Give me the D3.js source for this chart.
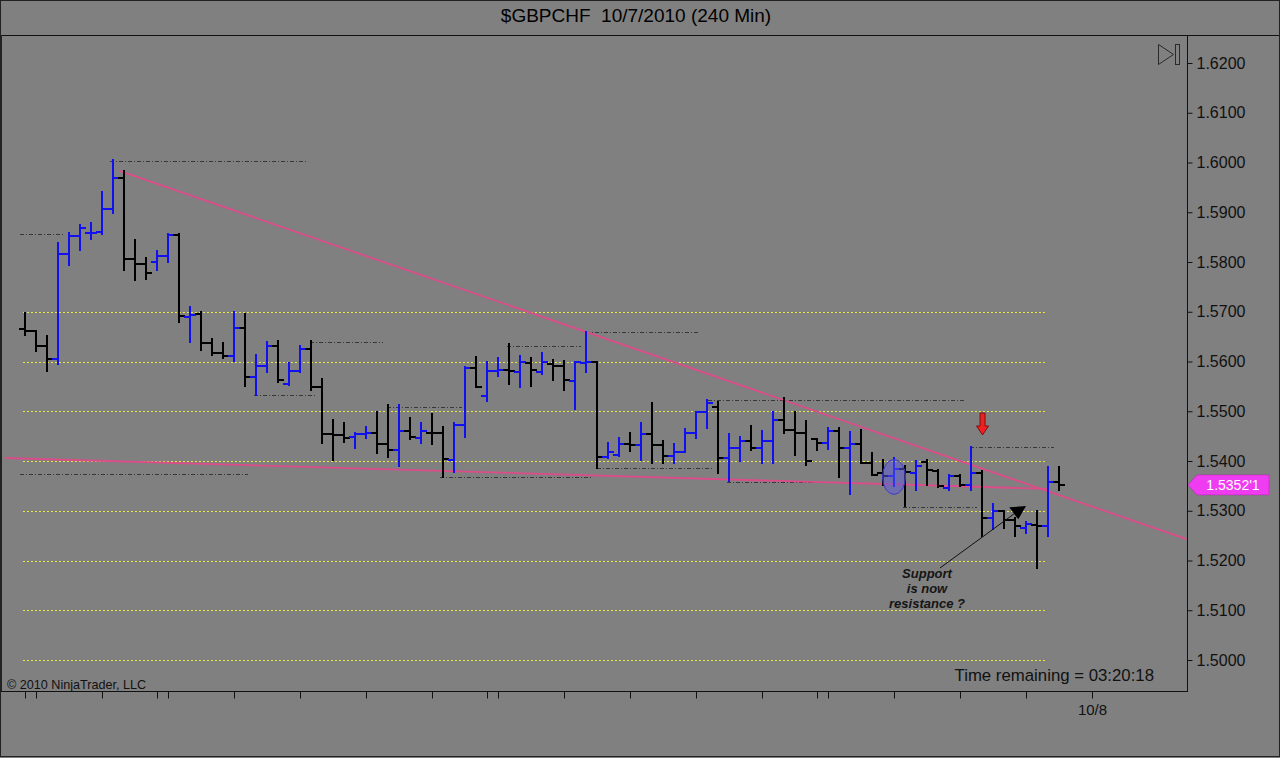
<!DOCTYPE html>
<html><head><meta charset="utf-8">
<script src="https://cdn.jsdelivr.net/npm/d3@7"></script>
<style>
html,body{margin:0;padding:0;background:#808080;}
svg{display:block;font-family:Arial,"Liberation Sans",sans-serif;}
text{white-space:pre;}
</style></head><body>
<svg id="c" width="1280" height="758"></svg>
<script>
// ---- data (240-min OHLC bars, $GBPCHF) ----
const opens  = [1.5666,1.5661,1.5631,1.5606,1.5816,1.5852,1.5858,1.5860,1.5906,1.5968,
1.5807,1.5795,1.5800,1.5812,1.5854,1.5690,1.5695,1.5638,1.5618,1.5611,
1.5667,1.5569,1.5590,1.5632,1.5554,1.5580,1.5626,1.5548,1.5454,1.5452,
1.5448,1.5454,1.5457,1.5434,1.5422,1.5460,1.5447,1.5457,1.5456,1.5402,
1.5472,1.5587,1.5531,1.5580,1.5582,1.5579,1.5596,1.5579,1.5595,1.5591,
1.5561,1.5597,1.5599,1.5409,1.5413,1.5434,1.5432,1.5454,1.5432,1.5410,
1.5418,1.5457,1.5498,1.5508,1.5406,1.5427,1.5440,1.5427,1.5440,1.5483,
1.5463,1.5456,1.5444,1.5437,1.5461,1.5427,1.5435,1.5396,1.5375,1.5370,
1.5383,1.5375,1.5397,1.5379,1.5345,1.5370,1.5352,1.5375,1.5285,1.5299,
1.5282,1.5265,1.5272,1.5269,1.5357];
const highs  = [1.5698,1.5661,1.5652,1.5839,1.5859,1.5874,1.5878,1.5940,1.6005,1.5983,
1.5844,1.5809,1.5822,1.5857,1.5856,1.5710,1.5700,1.5646,1.5638,1.5700,
1.5695,1.5613,1.5640,1.5642,1.5596,1.5632,1.5642,1.5564,1.5483,1.5477,
1.5456,1.5468,1.5499,1.5512,1.5512,1.5487,1.5477,1.5494,1.5469,1.5477,
1.5588,1.5610,1.5599,1.5608,1.5635,1.5611,1.5608,1.5618,1.5603,1.5601,
1.5599,1.5660,1.5599,1.5437,1.5447,1.5456,1.5476,1.5517,1.5440,1.5434,
1.5465,1.5499,1.5522,1.5518,1.5454,1.5449,1.5471,1.5461,1.5499,1.5527,
1.5498,1.5481,1.5444,1.5467,1.5467,1.5459,1.5462,1.5417,1.5403,1.5407,
1.5390,1.5401,1.5403,1.5381,1.5372,1.5372,1.5429,1.5379,1.5314,1.5299,
1.5285,1.5277,1.5299,1.5387,1.5387];
const lows   = [1.5654,1.5622,1.5581,1.5594,1.5793,1.5825,1.5847,1.5856,1.5899,1.5784,
1.5764,1.5766,1.5784,1.5800,1.5679,1.5639,1.5623,1.5613,1.5608,1.5601,
1.5550,1.5533,1.5579,1.5558,1.5552,1.5579,1.5543,1.5436,1.5402,1.5439,
1.5427,1.5447,1.5417,1.5409,1.5389,1.5445,1.5437,1.5434,1.5367,1.5377,
1.5449,1.5548,1.5520,1.5570,1.5554,1.5548,1.5550,1.5575,1.5563,1.5543,
1.5505,1.5579,1.5385,1.5407,1.5410,1.5420,1.5403,1.5395,1.5395,1.5395,
1.5418,1.5447,1.5467,1.5376,1.5359,1.5401,1.5423,1.5396,1.5395,1.5456,
1.5413,1.5391,1.5422,1.5425,1.5367,1.5334,1.5395,1.5372,1.5352,1.5350,
1.5310,1.5341,1.5352,1.5347,1.5342,1.5349,1.5342,1.5250,1.5263,1.5265,
1.5250,1.5255,1.5185,1.5249,1.5342];
const closes = [1.5661,1.5631,1.5606,1.5816,1.5852,1.5869,1.5859,1.5906,1.5968,1.5807,
1.5795,1.5777,1.5812,1.5854,1.5691,1.5693,1.5638,1.5618,1.5611,1.5667,
1.5569,1.5590,1.5632,1.5562,1.5580,1.5626,1.5548,1.5454,1.5452,1.5447,
1.5454,1.5457,1.5434,1.5422,1.5460,1.5449,1.5460,1.5456,1.5405,1.5472,
1.5587,1.5549,1.5581,1.5582,1.5580,1.5598,1.5583,1.5598,1.5591,1.5563,
1.5598,1.5599,1.5409,1.5418,1.5434,1.5432,1.5454,1.5432,1.5410,1.5418,
1.5457,1.5498,1.5517,1.5406,1.5427,1.5440,1.5427,1.5440,1.5483,1.5463,
1.5456,1.5399,1.5437,1.5461,1.5427,1.5435,1.5396,1.5372,1.5370,1.5383,
1.5377,1.5390,1.5381,1.5349,1.5370,1.5352,1.5375,1.5285,1.5299,1.5282,
1.5270,1.5274,1.5270,1.5357,1.5352];

const priceTicks = [1.50,1.51,1.52,1.53,1.54,1.55,1.56,1.57,1.58,1.59,1.60,1.61,1.62];
const levelPrices = [1.50,1.51,1.52,1.53,1.54,1.55,1.56,1.57];
const levelStartBar = -0.18, levelEndBar = 92.9;
const dateTickBars = [0,1,7,12,13,19,25,31,37,42,43,49,55,61,67,72,73,79,85,91,97];
const dateLabelBars = [97];
const dateLabelTexts = ["10/8"];

const pivotPrices = [1.6003,1.5856,1.5639,1.5533,1.5509,1.5374,1.5368,1.5660,1.5631,1.5386,1.5522,1.5358,1.5429,1.5308];
const pivotStart  = [7.7,-0.45,25.9,20.8,32.9,-0.45,37.7,51.0,43.8,52.0,62.1,63.8,85.9,79.8];
const pivotEnd    = [25.5,3.45,32.5,26.5,39.7,20.3,51.5,61.4,50.5,62.5,85.5,75.0,93.5,86.5];

const trendUpperBars = [8.6,105.6], trendUpperPrices = [1.5983,1.5243];
const trendLowerBars = [-1.82,92.9], trendLowerPrices = [1.5406,1.5344];

const ellipseBar = 79.0, ellipsePrice = 1.5368;
const redArrowBar = 87.05, redArrowTop = 1.54965, redArrowTip = 1.54523;
const noteLineBars = [83.18,89.9], noteLinePrices = [1.51849,1.52935];
const noteHeadBars = [89.48,91.0,90.3], noteHeadPrices = [1.53069,1.53095,1.52828];
const noteBar = 82.0, notePrices = [1.5164,1.5134,1.5104];
const noteLines = ["Support","is now","resistance ?"];

const title = "$GBPCHF  10/7/2010 (240 Min)";
const lastPriceText = "1.5352'1";

// ---- scales ----
const svg = d3.select("#c");
const x = d3.scaleLinear().domain([0,94]).range([25,1059]);
const y = d3.scaleLinear().domain([1.50,1.62]).range([660,63]);
const PL=1, PR=1187, PT=35, PB=691;

svg.append("rect").attr("x",0).attr("y",0).attr("width",1280).attr("height",758).attr("fill","#808080");

svg.append("defs").append("clipPath").attr("id","clip")
  .append("rect").attr("x",PL).attr("y",PT).attr("width",PR-PL).attr("height",PB-PT);

const plot = svg.append("g").attr("clip-path","url(#clip)");

// yellow levels
plot.selectAll("line.lvl").data(levelPrices).join("line")
  .attr("x1",Math.round(x(levelStartBar))).attr("x2",Math.round(x(levelEndBar)))
  .attr("y1",d=>Math.round(y(d))+0.5).attr("y2",d=>Math.round(y(d))+0.5)
  .attr("stroke","#e8e840").attr("stroke-width",1).attr("stroke-dasharray","2,2")
  .attr("shape-rendering","crispEdges");

// pivot dashed lines
plot.selectAll("line.piv").data(pivotPrices).join("line")
  .attr("x1",(d,i)=>x(pivotStart[i])).attr("x2",(d,i)=>x(pivotEnd[i]))
  .attr("y1",d=>Math.round(y(d))+0.5).attr("y2",d=>Math.round(y(d))+0.5)
  .attr("stroke","#383838").attr("stroke-width",1).attr("stroke-dasharray","4,2,1,2")
  .attr("shape-rendering","crispEdges");

// trend lines
const tl = d3.line().x(d=>x(d[0])).y(d=>y(d[1]));
plot.append("path").attr("d",tl(trendUpperBars.map((b,i)=>[b,trendUpperPrices[i]])))
  .attr("stroke","#dc4c8a").attr("stroke-width",1.8).attr("fill","none");
plot.append("path").attr("d",tl(trendLowerBars.map((b,i)=>[b,trendLowerPrices[i]])))
  .attr("stroke","#dc4c8a").attr("stroke-width",1.8).attr("fill","none");

// OHLC bars
const idx = d3.range(opens.length);
plot.selectAll("path.bar").data(idx).join("path")
  .attr("d",i=>{
    const cx=Math.round(x(i));
    const yo=Math.round(y(opens[i])), yc=Math.round(y(closes[i]));
    const yh=Math.round(y(highs[i]))-1, yl=Math.round(y(lows[i]))+1;
    return `M${cx},${yh}V${yl}M${cx-6},${yo}H${cx}M${cx},${yc}H${cx+6}`;
  })
  .attr("stroke",i=>closes[i]>opens[i]?"#1010f0":"#000")
  .attr("stroke-width",2).attr("fill","none");

// ellipse annotation
plot.append("ellipse").attr("cx",x(ellipseBar)).attr("cy",y(ellipsePrice))
  .attr("rx",11.5).attr("ry",17.5)
  .attr("fill","#5a5ae0").attr("fill-opacity",0.5).attr("stroke","#3c3cc8").attr("stroke-width",1);

// red arrow
{
  const ax=x(redArrowBar), yt=y(redArrowTop), yp=y(redArrowTip), yn=yp-9;
  plot.append("path")
    .attr("d",`M${ax-2.5},${yt}H${ax+2.5}V${yn}H${ax+6}L${ax},${yp}L${ax-6},${yn}H${ax-2.5}Z`)
    .attr("fill","#f02020").attr("stroke","#7a1010").attr("stroke-width",1);
}

// note arrow
plot.append("line").attr("x1",x(noteLineBars[0])).attr("y1",y(noteLinePrices[0]))
  .attr("x2",x(noteLineBars[1])).attr("y2",y(noteLinePrices[1]))
  .attr("stroke","#111").attr("stroke-width",1);
plot.append("path").attr("d","M"+noteHeadBars.map((b,i)=>x(b)+","+y(noteHeadPrices[i])).join("L")+"Z")
  .attr("fill","#000");
plot.selectAll("text.note").data(noteLines).join("text")
  .attr("x",x(noteBar)).attr("y",(d,i)=>y(notePrices[i]))
  .attr("text-anchor","middle").attr("font-size",13).attr("font-weight","bold")
  .attr("font-style","italic").attr("fill","#151515").text(d=>d);

// frame
svg.append("line").attr("x1",0).attr("x2",1280).attr("y1",PT+0.5).attr("y2",PT+0.5).attr("stroke","#111");
svg.append("line").attr("x1",0).attr("x2",PR).attr("y1",PB+0.5).attr("y2",PB+0.5).attr("stroke","#111");
svg.append("line").attr("x1",PR+0.5).attr("x2",PR+0.5).attr("y1",PT).attr("y2",PB+1).attr("stroke","#111");
svg.append("line").attr("x1",1.5).attr("x2",1.5).attr("y1",PT).attr("y2",PB).attr("stroke","#222");
svg.append("rect").attr("x",0.5).attr("y",0.5).attr("width",1279).attr("height",756).attr("fill","none").attr("stroke","#222");

// y axis
const ya = svg.append("g").attr("transform",`translate(${PR+0.5},0)`)
  .call(d3.axisRight(y).tickValues(priceTicks).tickSize(5).tickPadding(4).tickFormat(d3.format(".4f")));
ya.select(".domain").remove();
ya.selectAll("line").attr("stroke","#111");
ya.selectAll("text").attr("font-size",16).attr("fill","#111").attr("font-family","Arial, 'Liberation Sans', sans-serif");

// x axis
const xa = svg.append("g").attr("transform",`translate(0,${PB+0.5})`)
  .call(d3.axisBottom(x).tickValues(dateTickBars).tickSize(7).tickPadding(6)
    .tickFormat(d=>{const k=dateLabelBars.indexOf(d);return k>=0?dateLabelTexts[k]:"";}));
xa.select(".domain").remove();
xa.selectAll("line").attr("stroke","#111");
xa.selectAll("text").attr("font-size",15).attr("fill","#111").attr("font-family","Arial, 'Liberation Sans', sans-serif");

// title and texts
svg.append("text").attr("x",636).attr("y",22).attr("text-anchor","middle")
  .attr("font-size",19).attr("fill","#000").text(title);
svg.append("text").attr("x",7).attr("y",689).attr("font-size",12.6).attr("fill","#111").text("© 2010 NinjaTrader, LLC");
svg.append("text").attr("x",1154).attr("y",681).attr("text-anchor","end").attr("font-size",16.8).attr("fill","#111").text("Time remaining = 03:20:18");

// last price marker
{
  const yc=y(closes[closes.length-1]);
  svg.append("path").attr("d",`M${PR+1},${yc}L${PR+10},${yc-10}H1269V${yc+10}H${PR+10}Z`)
    .attr("fill","#f03cf0").attr("stroke","#b020b0").attr("stroke-width",0.5);
  svg.append("text").attr("x",1233).attr("y",yc+5).attr("text-anchor","middle")
    .attr("font-size",14).attr("fill","#fff").text(lastPriceText);
}

// top-right icon
svg.append("path").attr("d","M1158.5,44.5L1173.5,54.5L1158.5,64.5Z").attr("fill","none").attr("stroke","#2a2a2a");
svg.append("rect").attr("x",1175.5).attr("y",44.5).attr("width",4).attr("height",20).attr("fill","none").attr("stroke","#2a2a2a");
</script>
</body></html>
